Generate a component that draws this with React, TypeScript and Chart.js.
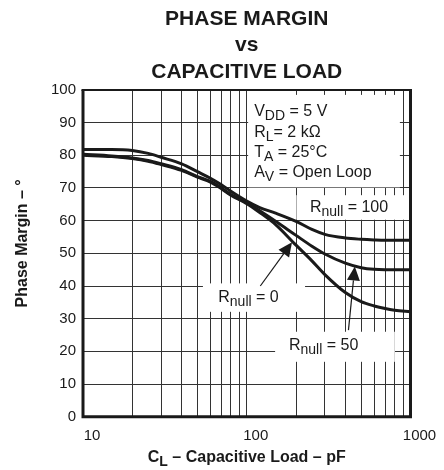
import React, { useEffect, useRef } from 'react';
import { Chart, registerables } from 'chart.js';

Chart.register(...registerables);

// ---------- data ----------
const TITLE_LINES = ['PHASE MARGIN', 'vs', 'CAPACITIVE LOAD'];
const X_TITLE = [{ t: 'C' }, { t: 'L', sub: true }, { t: ' – Capacitive Load – pF' }];
const Y_TITLE = 'Phase Margin – °';

const C_LOAD = [10, 15, 20, 25, 30, 40, 50, 60, 70, 80, 100, 120, 150, 200, 250, 300, 400, 500, 600, 700, 800, 1000];
const PM_RNULL_100 = [81.8, 81.8, 81.5, 80.6, 79.4, 77.4, 75.0, 73.0, 71.0, 69.0, 66.0, 64.0, 62.3, 59.8, 57.3, 55.8, 54.7, 54.3, 54.1, 54.0, 54.0, 54.0];
const PM_RNULL_50 = [80.3, 79.8, 79.2, 78.4, 77.4, 75.6, 73.5, 72.0, 70.0, 68.0, 65.5, 63.0, 59.8, 55.5, 52.2, 49.8, 47.0, 45.6, 45.1, 45.0, 45.0, 45.0];
const PM_RNULL_0 = [80.0, 79.6, 79.0, 78.2, 77.2, 75.4, 73.3, 71.8, 69.8, 67.8, 65.2, 62.5, 58.8, 52.5, 47.7, 43.5, 38.0, 35.2, 33.9, 33.1, 32.6, 32.1];

const X_GRID = [10, 20, 30, 40, 50, 60, 70, 80, 90, 100, 200, 300, 400, 500, 600, 700, 800, 900, 1000];
const X_TICK_LABELS = [10, 100, 1000];
const Y_MIN = 0;
const Y_MAX = 100;
const Y_STEP = 10;

type Seg = { t: string; sub?: boolean };

const CONDITIONS: Seg[][] = [
  [{ t: 'V' }, { t: 'DD', sub: true }, { t: ' = 5 V' }],
  [{ t: 'R' }, { t: 'L', sub: true }, { t: '= 2 kΩ' }],
  [{ t: 'T' }, { t: 'A', sub: true }, { t: ' = 25°C' }],
  [{ t: 'A' }, { t: 'V', sub: true }, { t: ' = Open Loop' }],
];
const CONDITION_X = 111;
const CONDITION_BASELINES = [92.1, 85.7, 79.4, 73.4];

const LABEL_R100: Seg[] = [{ t: 'R' }, { t: 'null', sub: true }, { t: ' = 100' }];
const LABEL_R0: Seg[] = [{ t: 'R' }, { t: 'null', sub: true }, { t: ' = 0' }];
const LABEL_R50: Seg[] = [{ t: 'R' }, { t: 'null', sub: true }, { t: ' = 50' }];

// annotation placements (in data coordinates: x = pF, y = degrees)
const LABELS = [
  { segs: LABEL_R100, x: 243, y: 62.7 },
  { segs: LABEL_R0, x: 67, y: 35.2 },
  { segs: LABEL_R50, x: 181, y: 20.4 },
];
const WHITE_BOXES = [
  { x0: 102, x1: 861, y0: 98.5, y1: 70.2 },
  { x0: 201, x1: 966, y0: 67.8, y1: 60.3 },
  { x0: 54, x1: 227, y0: 40.8, y1: 32.1 },
  { x0: 149, x1: 802, y0: 26.0, y1: 16.8 },
];
const ARROWS = [
  { fromX: 121, fromY: 40.0, toX: 189, toY: 53.4 },
  { fromX: 418, fromY: 26.5, toX: 457, toY: 46.0 },
];

// ---------- style ----------
const FONT = '"Liberation Sans", Arial, Helvetica, sans-serif';
const INK = '#1a1a1a';
const GRID = '#333333';

function drawRich(
  ctx: CanvasRenderingContext2D,
  segs: Seg[],
  x: number,
  y: number,
  size: number,
  subSize: number,
  bold: boolean,
  align: 'left' | 'center' = 'left'
) {
  const w = bold ? 'bold ' : '';
  const fontFor = (s: Seg) => `${w}${s.sub ? subSize : size}px ${FONT}`;
  let total = 0;
  for (const s of segs) {
    ctx.font = fontFor(s);
    total += ctx.measureText(s.t).width;
  }
  let cx = align === 'center' ? x - total / 2 : x;
  ctx.textAlign = 'left';
  ctx.textBaseline = 'alphabetic';
  for (const s of segs) {
    ctx.font = fontFor(s);
    ctx.fillText(s.t, cx, s.sub ? y + size * 0.25 : y);
    cx += ctx.measureText(s.t).width;
  }
}

function drawArrow(ctx: CanvasRenderingContext2D, x0: number, y0: number, x1: number, y1: number) {
  const dx = x1 - x0;
  const dy = y1 - y0;
  const L = Math.hypot(dx, dy);
  const ux = dx / L;
  const uy = dy / L;
  const hl = 14;
  const hw = 6.5;
  const bx = x1 - ux * hl;
  const by = y1 - uy * hl;
  ctx.lineWidth = 1.2;
  ctx.beginPath();
  ctx.moveTo(x0, y0);
  ctx.lineTo(bx, by);
  ctx.stroke();
  ctx.beginPath();
  ctx.moveTo(x1, y1);
  ctx.lineTo(bx - uy * hw, by + ux * hw);
  ctx.lineTo(bx + uy * hw, by - ux * hw);
  ctx.closePath();
  ctx.fill();
}

const annotPlugin = {
  id: 'annot',
  beforeDatasetsDraw(chart: any) {
    const { ctx, scales } = chart;
    const x = scales.x;
    const y = scales.y;
    ctx.save();
    ctx.fillStyle = '#ffffff';
    for (const b of WHITE_BOXES) {
      const px0 = x.getPixelForValue(b.x0);
      const px1 = x.getPixelForValue(b.x1);
      const py0 = y.getPixelForValue(b.y0);
      const py1 = y.getPixelForValue(b.y1);
      ctx.fillRect(Math.min(px0, px1), Math.min(py0, py1), Math.abs(px1 - px0), Math.abs(py1 - py0));
    }
    ctx.restore();
  },
  afterDatasetsDraw(chart: any) {
    const { ctx, scales, chartArea } = chart;
    const x = scales.x;
    const y = scales.y;
    const { left, right, top, bottom } = chartArea;
    ctx.save();
    ctx.strokeStyle = INK;
    ctx.fillStyle = INK;

    // frame
    ctx.lineWidth = 3;
    ctx.beginPath();
    ctx.moveTo(left, top);
    ctx.lineTo(left, bottom);
    ctx.lineTo(right, bottom);
    ctx.lineTo(right, top);
    ctx.stroke();
    ctx.lineWidth = 2;
    ctx.beginPath();
    ctx.moveTo(left - 1.5, top);
    ctx.lineTo(right + 1.5, top);
    ctx.stroke();

    // conditions
    CONDITIONS.forEach((segs, i) => {
      drawRich(ctx, segs, x.getPixelForValue(CONDITION_X), y.getPixelForValue(CONDITION_BASELINES[i]), 16, 14, false);
    });
    // curve labels
    for (const l of LABELS) {
      drawRich(ctx, l.segs, x.getPixelForValue(l.x), y.getPixelForValue(l.y), 16, 14, false);
    }
    // arrows
    for (const a of ARROWS) {
      drawArrow(
        ctx,
        x.getPixelForValue(a.fromX),
        y.getPixelForValue(a.fromY),
        x.getPixelForValue(a.toX),
        y.getPixelForValue(a.toY)
      );
    }

    // x-axis title
    drawRich(ctx, X_TITLE, (left + right) / 2, bottom + 45.5, 16, 14, true, 'center');

    // y-axis title
    ctx.save();
    ctx.translate(26.5, (top + bottom) / 2 - 10);
    ctx.rotate(-Math.PI / 2);
    ctx.font = `bold 16px ${FONT}`;
    ctx.textAlign = 'center';
    ctx.textBaseline = 'alphabetic';
    ctx.fillText(Y_TITLE, 0, 0);
    ctx.restore();

    ctx.restore();
  },
};

export default function App() {
  const ref = useRef<HTMLCanvasElement>(null);

  useEffect(() => {
    const canvas = ref.current;
    if (!canvas) return;
    const series = [
      { name: 'Rnull = 100', values: PM_RNULL_100 },
      { name: 'Rnull = 50', values: PM_RNULL_50 },
      { name: 'Rnull = 0', values: PM_RNULL_0 },
    ];
    const chart = new Chart(canvas, {
      type: 'line',
      data: {
        datasets: series.map((s) => ({
          label: s.name,
          data: C_LOAD.map((c, i) => ({ x: c, y: s.values[i] })),
          borderColor: INK,
          backgroundColor: INK,
          borderWidth: 3,
          pointRadius: 0,
          fill: false,
          cubicInterpolationMode: 'monotone' as const,
        })),
      },
      options: {
        responsive: false,
        animation: false,
        devicePixelRatio: 1,
        layout: { padding: { top: 0, left: 0, right: 33.5, bottom: 0 } },
        plugins: {
          legend: { display: false },
          tooltip: { enabled: false },
          title: {
            display: true,
            fullSize: false,
            text: TITLE_LINES,
            color: INK,
            font: { family: FONT, size: 21, weight: 'bold', lineHeight: 1.279 },
            padding: { top: 5.4, bottom: 4.0 },
          },
        },
        scales: {
          x: {
            type: 'logarithmic',
            min: 10,
            max: 1000,
            afterBuildTicks: (s: any) => {
              s.ticks = X_GRID.map((v) => ({ value: v }));
            },
            afterFit: (s: any) => {
              s.height = 53.3;
            },
            grid: { color: GRID, lineWidth: 1, drawTicks: false },
            border: { display: false },
            ticks: {
              autoSkip: false,
              maxRotation: 0,
              minRotation: 0,
              padding: 10,
              labelOffset: 9,
              color: INK,
              font: { family: FONT, size: 15 },
              callback: (v: any) => (X_TICK_LABELS.includes(Number(v)) ? String(v) : ''),
            },
          },
          y: {
            min: Y_MIN,
            max: Y_MAX,
            afterFit: (s: any) => {
              s.width = 83;
            },
            grid: { color: GRID, lineWidth: 1, drawTicks: false },
            border: { display: false },
            ticks: {
              stepSize: Y_STEP,
              padding: 7,
              color: INK,
              font: { family: FONT, size: 15 },
            },
          },
        },
      },
      plugins: [annotPlugin],
    } as any);
    return () => chart.destroy();
  }, []);

  return (
    <div style={{ position: 'fixed', left: 0, top: 0, width: 444, height: 470, background: '#ffffff' }}>
      <canvas ref={ref} width={444} height={470} style={{ display: 'block', width: 444, height: 470 }} />
    </div>
  );
}
